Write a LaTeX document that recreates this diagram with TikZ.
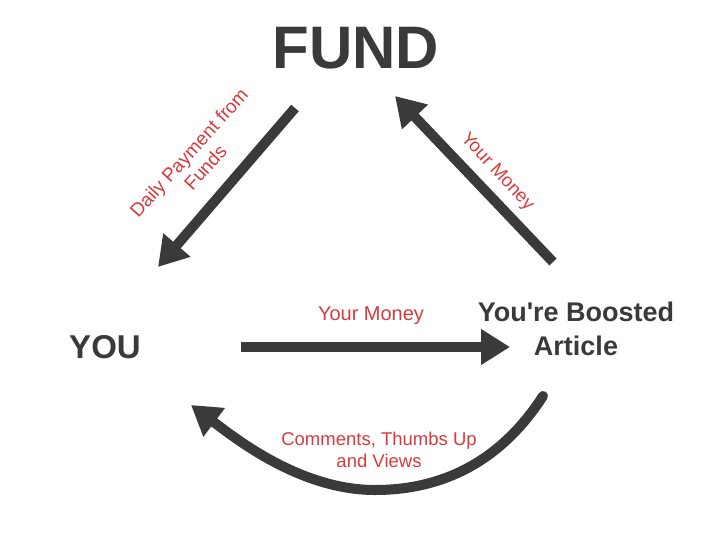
\documentclass[tikz,border=0pt]{standalone}
\usepackage{fontspec}
\setmainfont{Liberation Sans}
\usetikzlibrary{arrows.meta}

\definecolor{ink}{HTML}{3A3A3A}
\definecolor{redtxt}{HTML}{D83A3C}

\begin{document}
\begin{tikzpicture}[x=1pt, y=-1pt,
	arr/.style={draw=ink, line width=10pt, -{Triangle[length=29pt,width=34pt]}},
	lbl/.style={text=redtxt, font=\fontsize{18.5}{22}\selectfont, align=center, inner sep=0pt},
	big/.style={text=ink, align=center, inner sep=0pt}]
			\useasboundingbox (0,0) rectangle (719,540);

			\node[big, font=\fontsize{60}{60}\selectfont\bfseries] (fund) at (356,48) {FUND};
			\node[big, font=\fontsize{33}{33}\selectfont\bfseries] (you) at (105,347) {YOU};
			\node[big, font=\fontsize{27}{34}\selectfont\bfseries] (article) at (576,329) {You\textquotesingle re Boosted\\Article};

			\coordinate (fundout) at (295,108);
			\coordinate (youin) at (158,267);
			\coordinate (youout) at (241,347);
			\coordinate (articlein) at (510,347);
			\coordinate (articleout) at (553,262);
			\coordinate (fundin) at (395,96);
			\coordinate (backstart) at (543,396);
			\coordinate (backbottom) at (375,490);
			\coordinate (backend) at (191,405);

			\draw [arr] (fundout) -- (youin);
			\draw [arr] (articleout) -- (fundin);
			\draw [arr] (youout) -- (articlein);
			\draw [arr, line cap=round] (backstart) .. controls (505,455) and (450,490) .. (backbottom)
				.. controls (300,490) and (235,438) .. (backend);

			\node[lbl, font=\fontsize{19}{22}\selectfont, rotate=48] (paylbl) at (197,160) {Daily Payment from\\Funds};
			\node[lbl, rotate=-47] (moneylbl) at (497,172) {Your Money};
			\node[lbl, font=\fontsize{20}{24}\selectfont] (movelbl) at (371,316) {Your Money};
			\node[lbl] (backlbl) at (379,450) {Comments, Thumbs Up\\and Views};
		\end{tikzpicture}
\end{document}
